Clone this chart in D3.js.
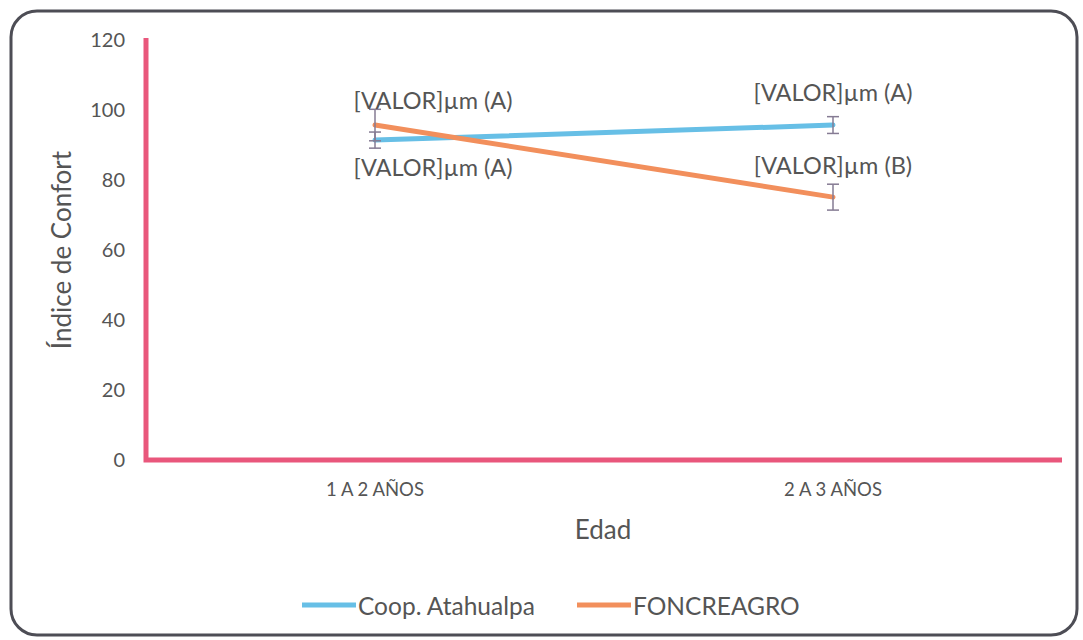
<!DOCTYPE html>
<html>
<head>
<meta charset="utf-8">
<script src="https://cdn.jsdelivr.net/npm/d3@7"></script>
<style>
  body { margin: 0; background: #fff; }
  text { font-family: Lato, "Open Sans", sans-serif; fill: #555; }
</style>
</head>
<body>
<div id="chart"></div>
<script>
// datos
const categories = ["1 A 2 AÑOS", "2 A 3 AÑOS"];
const seriesNames = ["Coop. Atahualpa", "FONCREAGRO"];
const atahualpa = [91.4, 95.7];
const atahualpaErr = [2.3, 2.4];
const foncreagro = [95.7, 75.1];
const foncreagroErr = [4.5, 3.7];
const labelsAtahualpa = ["[VALOR]µm (A)", "[VALOR]µm (A)"];
const labelsFoncreagro = ["[VALOR]µm (A)", "[VALOR]µm (B)"];
const yTicks = [0, 20, 40, 60, 80, 100, 120];

const W = 1083, H = 640;
const colors = ["#67bfe6", "#f28f5c"];

const svg = d3.select("#chart").append("svg")
    .attr("width", W)
    .attr("height", H);

// marco redondeado
svg.append("rect")
    .attr("x", 11).attr("y", 11)
    .attr("width", 1066).attr("height", 624)
    .attr("rx", 26)
    .attr("fill", "#fff")
    .attr("stroke", "#4d4d55")
    .attr("stroke-width", 3);

const x = d3.scaleBand().domain(categories).range([146, 1062]);
const y = d3.scaleLinear().domain([0, 120]).range([460, 40]);

// ticks y
const yAxis = svg.append("g")
    .attr("transform", "translate(146,0)")
    .call(d3.axisLeft(y).tickValues(yTicks).tickSize(0).tickPadding(21));
yAxis.select(".domain").remove();
yAxis.selectAll("text")
    .style("font-size", "20px")
    .style("font-family", "Lato, sans-serif")
    .attr("fill", "#555");

// ticks x
const xAxis = svg.append("g")
    .attr("transform", "translate(0,460)")
    .call(d3.axisBottom(x).tickSize(0).tickPadding(23));
xAxis.select(".domain").remove();
xAxis.selectAll("text")
    .style("font-size", "18.5px")
    .style("font-family", "Lato, sans-serif")
    .attr("fill", "#555");

// ejes rosados
svg.append("path")
    .attr("d", `M146,${y(120) - 2}V${y(0)}H1062`)
    .attr("fill", "none")
    .attr("stroke", "#e9577c")
    .attr("stroke-width", 5);

// titulos
svg.append("text")
    .attr("x", 603).attr("y", 539)
    .attr("text-anchor", "middle")
    .style("font-size", "26px")
    .text("Edad");

svg.append("text")
    .attr("transform", "translate(71,250) rotate(-90)")
    .attr("text-anchor", "middle")
    .style("font-size", "26px")
    .text("Índice de Confort");

const series = [
    { name: seriesNames[0], values: atahualpa, err: atahualpaErr, labels: labelsAtahualpa, color: colors[0],
      offsets: [[58, 27], [0, -33]] },
    { name: seriesNames[1], values: foncreagro, err: foncreagroErr, labels: labelsFoncreagro, color: colors[1],
      offsets: [[58, -25], [0, -32]] }
];

const cx = c => x(c) + x.bandwidth() / 2;
const line = d3.line()
    .x((d, i) => cx(categories[i]))
    .y(d => y(d));

series.forEach(s => {
    svg.append("path")
        .datum(s.values)
        .attr("d", line)
        .attr("fill", "none")
        .attr("stroke", s.color)
        .attr("stroke-width", 5)
        .attr("stroke-linecap", "round");
});

// barras de error
series.forEach(s => {
    const g = svg.append("g")
        .attr("stroke", "#857b93")
        .attr("stroke-width", 1.5);
    s.values.forEach((v, i) => {
        const px = cx(categories[i]);
        g.append("line")
            .attr("x1", px).attr("x2", px)
            .attr("y1", y(v + s.err[i])).attr("y2", y(v - s.err[i]));
        [v + s.err[i], v - s.err[i]].forEach(e => {
            g.append("line")
                .attr("x1", px - 6).attr("x2", px + 6)
                .attr("y1", y(e)).attr("y2", y(e));
        });
    });
});

// etiquetas
series.forEach(s => {
    s.values.forEach((v, i) => {
        svg.append("text")
            .attr("x", cx(categories[i]) + s.offsets[i][0])
            .attr("y", y(v) + s.offsets[i][1])
            .attr("text-anchor", "middle")
            .attr("dominant-baseline", "central")
            .style("font-size", "23.5px")
            .text(s.labels[i]);
    });
});

// leyenda
const legend = svg.append("g");
const legendX = [302, 577];
series.forEach((s, i) => {
    legend.append("line")
        .attr("x1", legendX[i]).attr("x2", legendX[i] + 54)
        .attr("y1", 605).attr("y2", 605)
        .attr("stroke", s.color)
        .attr("stroke-width", 5);
    legend.append("text")
        .attr("x", legendX[i] + 56)
        .attr("y", 605)
        .attr("dominant-baseline", "central")
        .style("font-size", "24.5px")
        .text(s.name);
});
</script>
</body>
</html>
